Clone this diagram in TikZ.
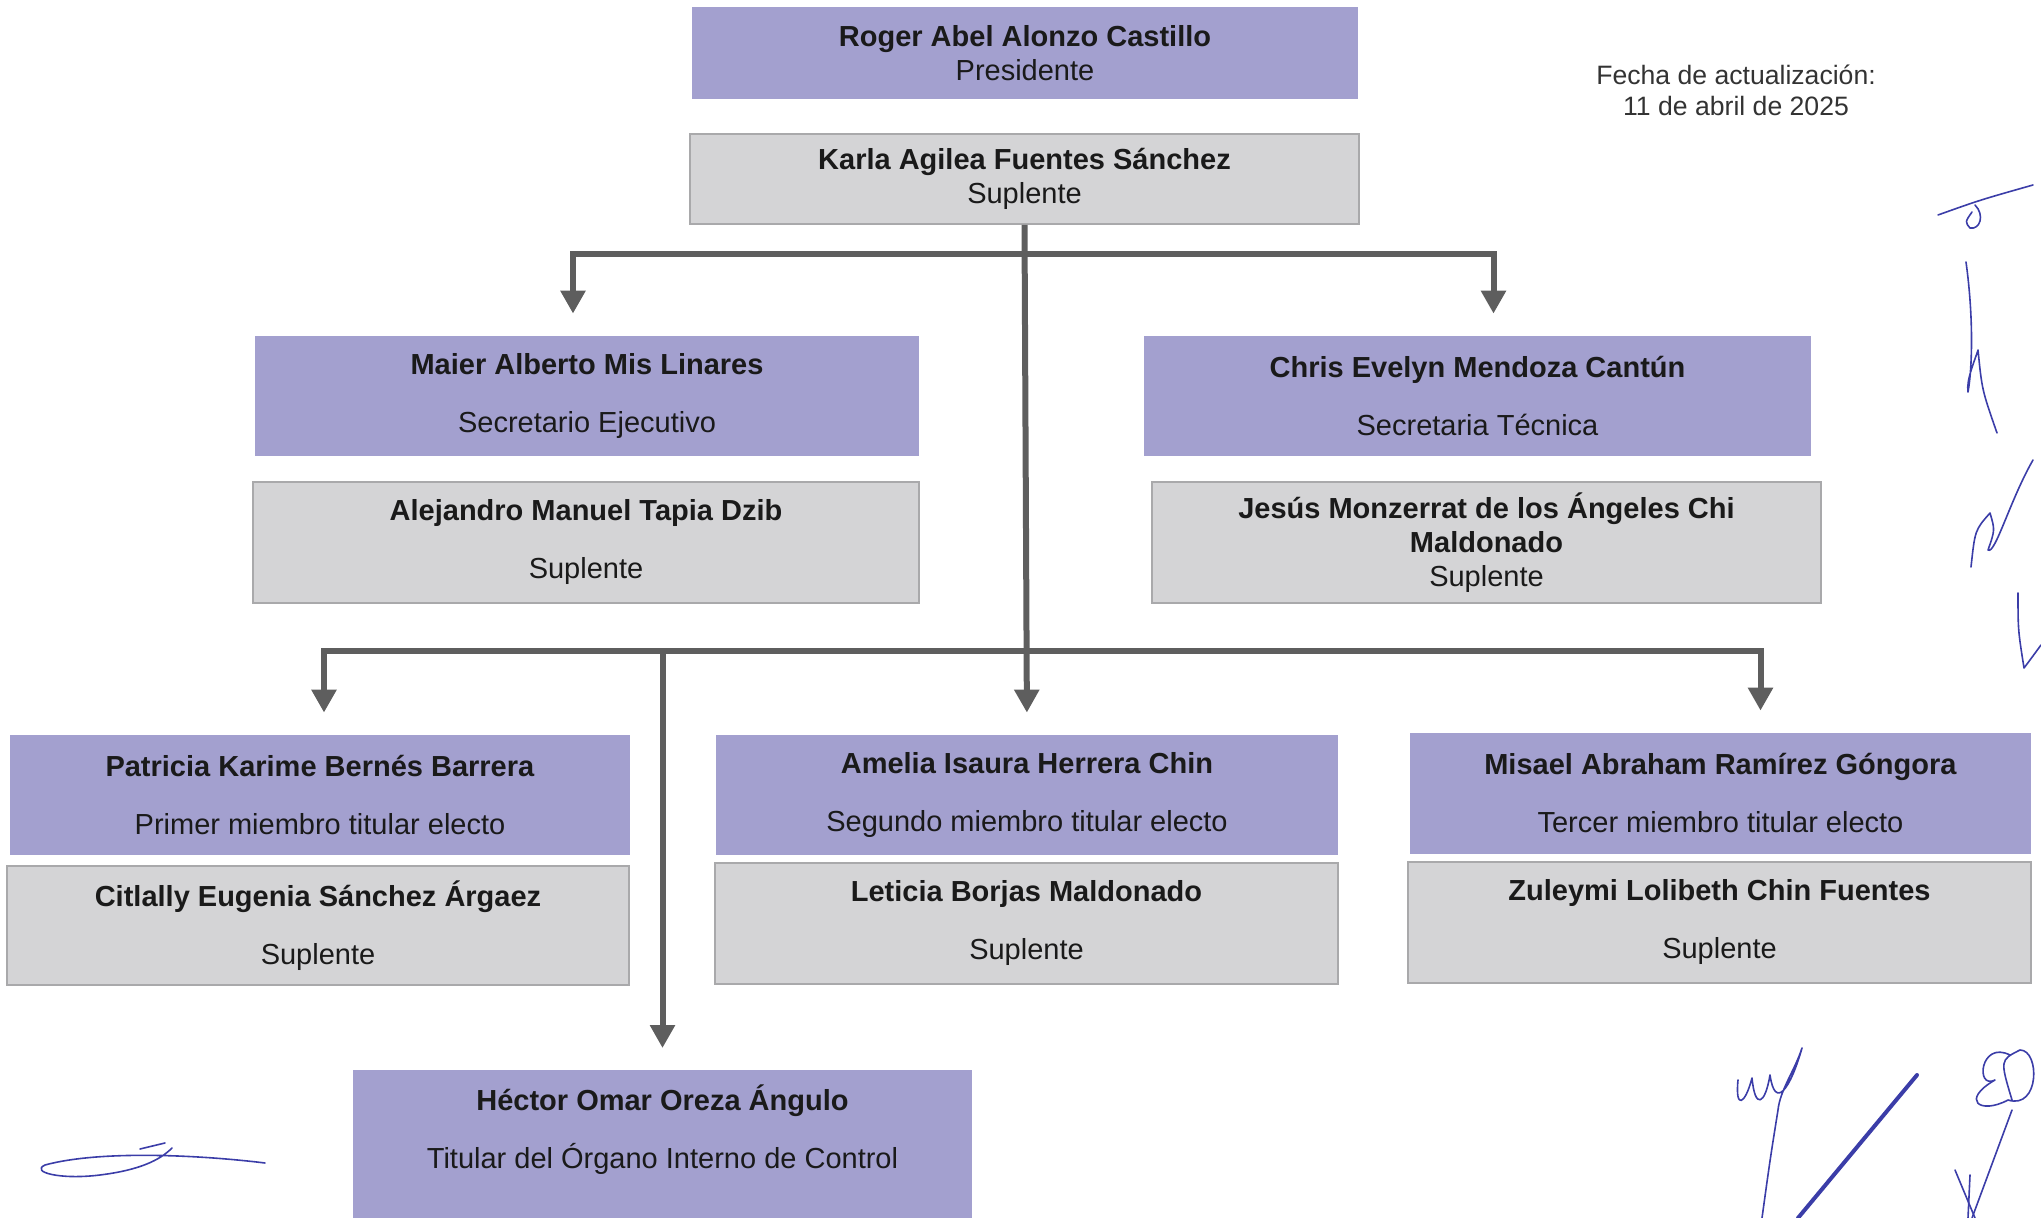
\documentclass[tikz,border=0pt]{standalone}
\usepackage{fontspec}
\setmainfont{Liberation Sans}
\usetikzlibrary{arrows.meta}
\definecolor{lila}{HTML}{A3A0CF}
\definecolor{gris}{HTML}{D4D4D6}
\definecolor{borde}{HTML}{A9A9AB}
\definecolor{flecha}{HTML}{5E5E5E}
\definecolor{tinta}{HTML}{3B3DA8}
\definecolor{texto}{HTML}{1A1A1A}

\begin{document}
\begin{tikzpicture}[x=0.5pt, y=-0.5pt,
  titular/.style={fill=lila, minimum height=60pt, align=center, inner sep=0pt,
    text=texto, font=\fontsize{14.5}{17}\selectfont},
  suplente/.style={titular, fill=gris, draw=borde, line width=0.8pt},
  conector/.style={draw=flecha, line width=3pt,
    -{Triangle[width=12pt,length=11.5pt]}, shorten >=11pt},
  firma/.style={tinta, line width=0.8pt, line cap=round, line join=round}]
  \useasboundingbox (0,0) rectangle (2041,1218);

  % Presidencia
  \node[titular, minimum width=333pt, minimum height=46pt] (pres) at (1025,53)
    {\textbf{Roger Abel Alonzo Castillo}\\Presidente};
  \node[suplente, minimum width=334.5pt, minimum height=45pt] (suppres) at (1024.5,179)
    {\textbf{Karla Agilea Fuentes Sánchez}\\Suplente};

  % Fecha
  \node[align=center, text=black!80, font=\fontsize{13.3}{15.5}\selectfont] (fecha) at (1736,90)
    {Fecha de actualización:\\11 de abril de 2025};

  % Secretarías
  \node[titular, minimum width=332pt] (maier) at (587,396)
    {\textbf{Maier Alberto Mis Linares}\\[12pt]Secretario Ejecutivo};
  \node[suplente, minimum width=333pt, minimum height=60.5pt] (alej) at (586,542.5)
    {\textbf{Alejandro Manuel Tapia Dzib}\\[12pt]Suplente};
  \node[titular, minimum width=333.5pt] (chris) at (1477.5,396)
    {\textbf{Chris Evelyn Mendoza Cantún}\\[12pt]Secretaria Técnica};
  \node[suplente, minimum width=334.5pt, minimum height=60.5pt] (jesus) at (1486.5,542.5)
    {\textbf{Jesús Monzerrat de los Ángeles Chi}\\\textbf{Maldonado}\\Suplente};

  % Miembros titulares electos
  \node[titular, minimum width=310pt] (patricia) at (320,795)
    {\textbf{Patricia Karime Bernés Barrera}\\[12pt]Primer miembro titular electo};
  \node[suplente, minimum width=311pt, minimum height=59.5pt] (citlally) at (318,925.5)
    {\textbf{Citlally Eugenia Sánchez Árgaez}\\[12pt]Suplente};
  \node[titular, minimum width=311pt] (amelia) at (1027,795)
    {\textbf{Amelia Isaura Herrera Chin}\\[12pt]Segundo miembro titular electo};
  \node[suplente, minimum width=311.5pt, minimum height=60.5pt] (leticia) at (1026.5,923.5)
    {\textbf{Leticia Borjas Maldonado}\\[12pt]Suplente};
  \node[titular, minimum width=310.5pt, minimum height=60.5pt] (misael) at (1720.5,793.5)
    {\textbf{Misael Abraham Ramírez Góngora}\\[12pt]Tercer miembro titular electo};
  \node[suplente, minimum width=311.5pt, minimum height=60.5pt] (zuleymi) at (1719.5,922.5)
    {\textbf{Zuleymi Lolibeth Chin Fuentes}\\[12pt]Suplente};

  % Órgano Interno de Control
  \node[titular, anchor=north, minimum width=309.5pt, minimum height=85pt] (hector) at (662.5,1070)
    {\textbf{Héctor Omar Oreza Ángulo}\\[12pt]Titular del Órgano Interno de Control\\[12pt]\mbox{}};

  % Conectores
  \coordinate (barra1) at (1027,254);
  \coordinate (barra2) at (1027,651);
  \draw[conector] (suppres.south) -- (amelia.north);
  \draw[conector] (barra1) -| ([xshift=-7pt]maier.north);
  \draw[conector] (barra1) -| ([xshift=8pt]chris.north);
  \draw[conector] (barra2) -| ([xshift=2pt]patricia.north);
  \draw[conector] (barra2) -| ([xshift=20pt]misael.north);
  \draw[conector] (barra2 -| hector.north) -- (hector.north);

  % Firmas
  \draw[firma] (1938,215) .. controls (1980,200) .. (2033,185);
  \draw[firma] (1975,205) .. controls (1985,215) and (1980,230) .. (1970,228) .. controls (1965,222) .. (1972,212);
  \draw[firma] (1966,262) .. controls (1974,320) and (1972,370) .. (1968,392)
    .. controls (1966,380) and (1975,360) .. (1978,350) .. controls (1982,390) .. (1997,433);
  \draw[firma] (1971,567) .. controls (1975,530) .. (1990,513) .. controls (1995,530) .. (1988,550)
    .. controls (1995,555) and (2010,500) .. (2033,460);
  \draw[firma] (2018,593) .. controls (2018,630) .. (2024,668) .. controls (2030,660) .. (2041,645);
  \draw[firma] (1738,1080) .. controls (1735,1110) and (1745,1105) .. (1752,1078)
    .. controls (1755,1110) and (1765,1105) .. (1770,1075) .. controls (1775,1110) and (1790,1090) .. (1802,1048)
    .. controls (1795,1070) and (1780,1090) .. (1778,1110) .. controls (1770,1160) .. (1762,1218);
  \draw[firma, line width=2pt] (1917,1075) -- (1798,1218);
  \draw[firma] (2010,1055) .. controls (1980,1040) and (1975,1090) .. (1995,1080)
    .. controls (1960,1100) and (1980,1115) .. (2008,1100) .. controls (2040,1110) and (2040,1050) .. (2020,1050)
    .. controls (2000,1060) .. (2012,1100);
  \draw[firma] (2012,1110) -- (1972,1218);
  \draw[firma] (1955,1170) -- (1975,1218);
  \draw[firma] (1970,1175) -- (1968,1218);
  \draw[firma] (265,1163) .. controls (200,1155) and (100,1150) .. (45,1165)
    .. controls (30,1172) and (60,1180) .. (100,1175) .. controls (140,1170) and (160,1160) .. (172,1148);
  \draw[firma] (140,1149) -- (165,1143);
\end{tikzpicture}
\end{document}
